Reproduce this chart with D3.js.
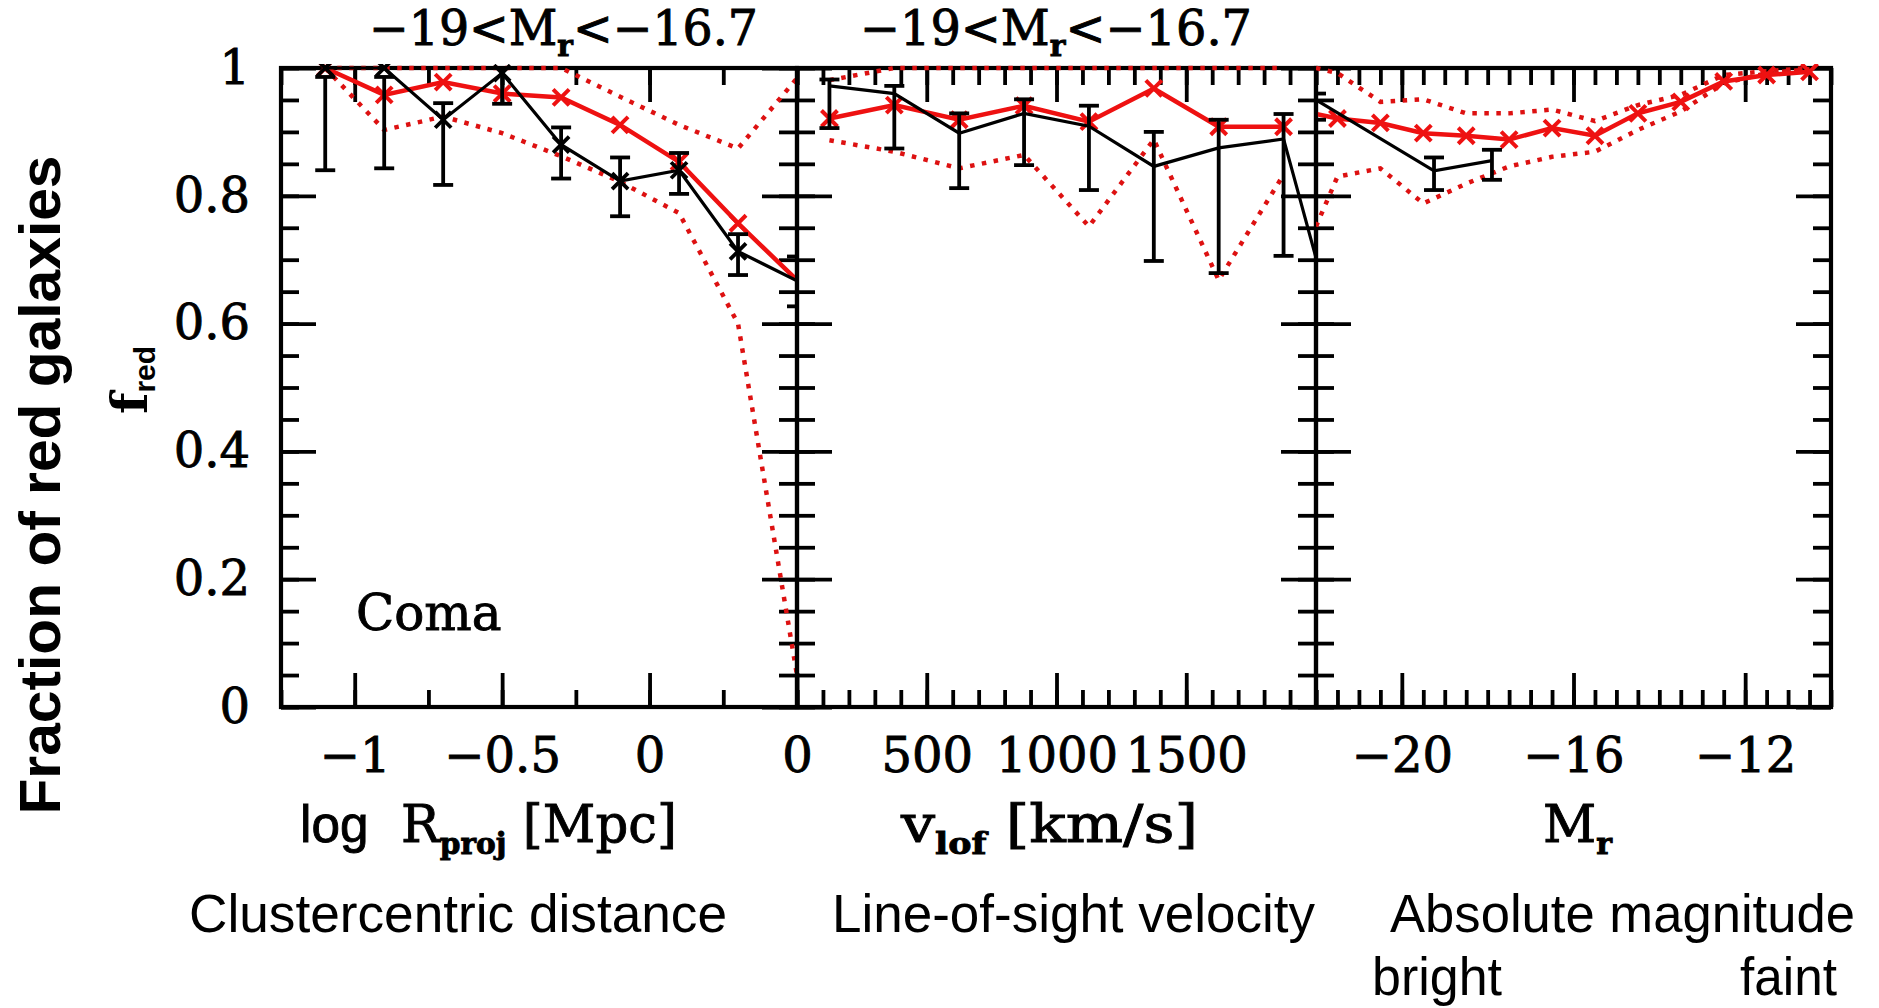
<!DOCTYPE html>
<html>
<head>
<meta charset="utf-8">
<script src="https://cdn.jsdelivr.net/npm/d3@7"></script>
<style>
body { margin: 0; background: #fff; }
.heavy { stroke: #000; stroke-width: 0.9px; }
</style>
</head>
<body>
<svg id="chart" width="1879" height="1008"></svg>
<script>
// y axis (fraction of red galaxies)
var yTicks = [0, 0.2, 0.4, 0.6, 0.8, 1];
var yTickLabels = ["0", "0.2", "0.4", "0.6", "0.8", "1"];

// panel 1: clustercentric distance, log R_proj
var rTicks = [-1, -0.5, 0];
var rTickLabels = ["\u22121", "\u22120.5", "0"];
var rX = [-1.1, -0.9, -0.7, -0.5, -0.3, -0.1, 0.1, 0.3, 0.5];
var rModel = [1.0, 0.958, 0.978, 0.960, 0.954, 0.911, 0.853, 0.757, 0.668];
var rModelHi = [1.0, 1.0, 1.0, 1.0, 1.0, 0.955, 0.911, 0.874, 0.984];
var rModelLo = [1.0, 0.903, 0.924, 0.898, 0.862, 0.822, 0.773, 0.600, 0.05];
var rObs = [1.0, 1.0, 0.919, 0.992, 0.880, 0.823, 0.840, 0.713, 0.667];
var rObsLo = [0.840, 0.843, 0.817, 0.944, 0.827, 0.768, 0.803, 0.676, 0.627];
var rObsHi = [0.986, 0.986, 0.945, 1.0, 0.907, 0.860, 0.867, 0.740, 0.705];

// panel 2: line-of-sight velocity
var vTicks = [0, 500, 1000, 1500];
var vTickLabels = ["0", "500", "1000", "1500"];
var vX = [125, 375, 625, 875, 1125, 1375, 1625, 1875];
var vModel = [0.921, 0.942, 0.919, 0.941, 0.916, 0.968, 0.908, 0.908];
var vModelHi = [0.981, 1.0, 1.0, 1.0, 1.0, 1.0, 1.0, 1.0];
var vModelLo = [0.887, 0.869, 0.843, 0.864, 0.752, 0.888, 0.668, 0.833];
var vObsX = [125, 375, 625, 875, 1125, 1375, 1625, 1875, 2000];
var vObs = [0.972, 0.960, 0.898, 0.929, 0.909, 0.846, 0.875, 0.889, 0.703];
var vObsLo = [0.906, 0.874, 0.812, 0.848, 0.809, 0.698, 0.679, 0.706, null];
var vObsHi = [0.982, 0.972, 0.929, 0.951, 0.941, 0.900, 0.919, 0.928, null];

// panel 3: absolute magnitude
var mTicks = [-20, -16, -12];
var mTickLabels = ["\u221220", "\u221216", "\u221212"];
var mX = [-22, -21.5, -20.5, -19.5, -18.5, -17.5, -16.5, -15.5, -14.5, -13.5, -12.5, -11.5, -10.5];
var mModel = [0.928, 0.921, 0.914, 0.898, 0.894, 0.888, 0.906, 0.894, 0.929, 0.947, 0.979, 0.989, 0.994];
var mModelHi = [1.0, 0.992, 0.947, 0.951, 0.929, 0.929, 0.935, 0.917, 0.942, 0.958, 0.989, 0.995, 1.0];
var mModelLo = [0.752, 0.830, 0.843, 0.788, 0.819, 0.846, 0.861, 0.869, 0.903, 0.932, 0.976, 0.992, 0.998];
var mObsX = [-22, -19.25, -17.9];
var mObs = [0.950, 0.839, 0.855];
var mObsLo = [0.919, 0.809, 0.825];
var mObsHi = [0.960, 0.860, 0.872];

var RED = "#ee1111", RED_DOT = "#dd1111";
var SERIF = "DejaVu Serif", SANS = "Liberation Sans";

var svg = d3.select("#chart");
var yTop = 68, yBot = 707;
var y = d3.scaleLinear().domain([0, 1]).range([yBot, yTop]);

var panels = [
    { x0: 281, x1: 797, domain: [-1.25, 0.5], minor: 0.25, ticks: rTicks, labels: rTickLabels,
      mx: rX, mid: rModel, hi: rModelHi, lo: rModelLo,
      ox: rX, obs: rObs, oLo: rObsLo, oHi: rObsHi, obsMarks: true },
    { x0: 797, x1: 1316, domain: [0, 2000], minor: 100, ticks: vTicks, labels: vTickLabels,
      mx: vX, mid: vModel, hi: vModelHi, lo: vModelLo,
      ox: vObsX, obs: vObs, oLo: vObsLo, oHi: vObsHi, obsMarks: false },
    { x0: 1316, x1: 1831, domain: [-22, -10], minor: 0.5, ticks: mTicks, labels: mTickLabels,
      mx: mX, mid: mModel, hi: mModelHi, lo: mModelLo,
      ox: mObsX, obs: mObs, oLo: mObsLo, oHi: mObsHi, obsMarks: false }
];

function tickAxis(axisFn, scale, vals, size, tr, labels) {
    var ax = axisFn(scale).tickValues(vals).tickSizeInner(-size).tickSizeOuter(0).tickPadding(31)
        .tickFormat(function(d, k) { return labels ? labels[k] : ""; });
    var a = svg.append("g").attr("transform", tr).call(ax);
    a.select(".domain").remove();
    a.selectAll("line").attr("stroke", "#000").attr("stroke-width", 3.8);
    a.selectAll("text").attr("font-family", SERIF).attr("font-size", 48).attr("fill", "#000")
        .attr("class", "heavy");
}

function cross(g, px, py, s, color, w) {
    g.append("path")
        .attr("d", "M" + (px - s) + "," + (py - s) + "L" + (px + s) + "," + (py + s) +
                   "M" + (px - s) + "," + (py + s) + "L" + (px + s) + "," + (py - s))
        .attr("stroke", color).attr("stroke-width", w).attr("fill", "none");
}

var yMinor = d3.range(0, 1.0001, 0.05);

panels.forEach(function(p, i) {
    var x = d3.scaleLinear().domain(p.domain).range([p.x0, p.x1]);
    var xMinor = d3.range(p.domain[0], p.domain[1] + 1e-9, p.minor);

    // ticks, all pointing inwards
    tickAxis(d3.axisBottom, x, xMinor, 17, "translate(0," + yBot + ")", null);
    tickAxis(d3.axisBottom, x, p.ticks, 34, "translate(0," + yBot + ")", p.labels);
    tickAxis(d3.axisTop, x, xMinor, 17, "translate(0," + yTop + ")", null);
    tickAxis(d3.axisTop, x, p.ticks, 34, "translate(0," + yTop + ")", null);
    tickAxis(d3.axisLeft, y, yMinor, 18, "translate(" + p.x0 + ",0)", null);
    tickAxis(d3.axisLeft, y, yTicks, 35, "translate(" + p.x0 + ",0)", i == 0 ? yTickLabels : null);
    tickAxis(d3.axisRight, y, yMinor, 18, "translate(" + p.x1 + ",0)", null);
    tickAxis(d3.axisRight, y, yTicks, 35, "translate(" + p.x1 + ",0)", null);

    svg.append("rect").attr("x", p.x0).attr("y", yTop)
        .attr("width", p.x1 - p.x0).attr("height", yBot - yTop)
        .attr("fill", "none").attr("stroke", "#000").attr("stroke-width", 4.2);

    svg.append("clipPath").attr("id", "clip" + i).append("rect")
        .attr("x", p.x0).attr("y", yTop - 4).attr("width", p.x1 - p.x0).attr("height", yBot - yTop + 8);

    var g = svg.append("g").attr("clip-path", "url(#clip" + i + ")");

    var model = p.mx.map(function(d, k) { return { x: d, mid: p.mid[k], hi: p.hi[k], lo: p.lo[k] }; });
    var obs = p.ox.map(function(d, k) { return { x: d, v: p.obs[k], lo: p.oLo[k], hi: p.oHi[k] }; });

    ["hi", "lo"].forEach(function(key) {
        g.append("path").datum(model)
            .attr("d", d3.line().x(function(d) { return x(d.x); }).y(function(d) { return y(d[key]); }))
            .attr("fill", "none").attr("stroke", RED_DOT).attr("stroke-width", 4.5)
            .attr("stroke-dasharray", "4.5 7.5");
    });

    g.append("path").datum(model)
        .attr("d", d3.line().x(function(d) { return x(d.x); }).y(function(d) { return y(d.mid); }))
        .attr("fill", "none").attr("stroke", RED).attr("stroke-width", 4.5);
    model.forEach(function(d) {
        if (d.x > p.domain[0] && d.x < p.domain[1]) cross(g, x(d.x), y(d.mid), 8, RED, 4);
    });

    g.append("path").datum(obs)
        .attr("d", d3.line().x(function(d) { return x(d.x); }).y(function(d) { return y(d.v); }))
        .attr("fill", "none").attr("stroke", "#000").attr("stroke-width", 3.2);

    obs.forEach(function(d) {
        if (d.lo == null) return;
        var px = x(d.x);
        g.append("line").attr("x1", px).attr("x2", px).attr("y1", y(d.lo)).attr("y2", y(d.hi))
            .attr("stroke", "#000").attr("stroke-width", 3.8);
        [d.lo, d.hi].forEach(function(e) {
            g.append("line").attr("x1", px - 10).attr("x2", px + 10).attr("y1", y(e)).attr("y2", y(e))
                .attr("stroke", "#000").attr("stroke-width", 3.8);
        });
        if (p.obsMarks && d.x < p.domain[1]) cross(g, px, y(d.v), 8, "#000", 3.8);
    });
});

// titles above panels 1 and 2
[[369, 389], [860, 392]].forEach(function(t) {
    var txt = svg.append("text").attr("x", t[0]).attr("y", 45).attr("class", "heavy")
        .attr("font-family", SERIF).attr("font-size", 48).attr("fill", "#000")
        .attr("textLength", t[1]).attr("lengthAdjust", "spacingAndGlyphs");
    txt.append("tspan").text("\u221219<M");
    txt.append("tspan").attr("dy", 11).attr("font-size", 30).attr("font-weight", "bold").text("r");
    txt.append("tspan").attr("dy", -11).text("<\u221216.7");
});

// x axis titles
var t1 = svg.append("text").attr("x", 300).attr("y", 842).attr("font-family", SERIF)
    .attr("font-size", 52).attr("fill", "#000").attr("class", "heavy")
    .attr("textLength", 377).attr("lengthAdjust", "spacingAndGlyphs");
t1.append("tspan").attr("font-family", SANS).text("log");
t1.append("tspan").text("\u00a0\u00a0R");
t1.append("tspan").attr("dy", 12).attr("font-size", 30).attr("font-weight", "bold").text("proj");
t1.append("tspan").attr("dy", -12).text("\u00a0[Mpc]");

var t2 = svg.append("text").attr("x", 901).attr("y", 842).attr("font-family", SERIF)
    .attr("font-size", 52).attr("fill", "#000").attr("class", "heavy")
    .attr("textLength", 297).attr("lengthAdjust", "spacingAndGlyphs");
t2.append("tspan").text("v");
t2.append("tspan").attr("dy", 12).attr("font-size", 30).attr("font-weight", "bold").text("lof");
t2.append("tspan").attr("dy", -12).text("\u00a0[km/s]");

var t3 = svg.append("text").attr("x", 1543).attr("y", 842).attr("font-family", SERIF)
    .attr("font-size", 52).attr("fill", "#000").attr("class", "heavy");
t3.append("tspan").text("M");
t3.append("tspan").attr("dy", 12).attr("font-size", 30).attr("font-weight", "bold").text("r");

// y axis titles
svg.append("text").attr("transform", "translate(60,485) rotate(-90)")
    .attr("text-anchor", "middle").attr("font-family", SANS).attr("font-weight", "bold")
    .attr("font-size", 58).attr("fill", "#000")
    .attr("textLength", 659).attr("lengthAdjust", "spacingAndGlyphs")
    .text("Fraction of red galaxies");

var fr = svg.append("text").attr("transform", "translate(147,380) rotate(-90)")
    .attr("text-anchor", "middle").attr("font-family", SERIF).attr("font-weight", "bold")
    .attr("font-size", 50).attr("fill", "#000");
fr.append("tspan").text("f");
fr.append("tspan").attr("dy", 8).attr("font-size", 30).attr("font-family", SANS).text("red");

svg.append("text").attr("x", 356).attr("y", 630).attr("font-family", SERIF).attr("class", "heavy")
    .attr("font-size", 50).attr("fill", "#000").text("Coma");

// descriptive labels
var notes = [
    ["Clustercentric distance", 189, 932, 538],
    ["Line-of-sight velocity", 832, 932, 483],
    ["Absolute magnitude", 1390, 932, 465],
    ["bright", 1372, 995, 130],
    ["faint", 1740, 995, 97]
];
notes.forEach(function(n) {
    svg.append("text").attr("x", n[1]).attr("y", n[2]).attr("font-family", SANS)
        .attr("font-size", 53).attr("fill", "#000")
        .attr("textLength", n[3]).attr("lengthAdjust", "spacingAndGlyphs")
        .text(n[0]);
});
</script>
</body>
</html>
